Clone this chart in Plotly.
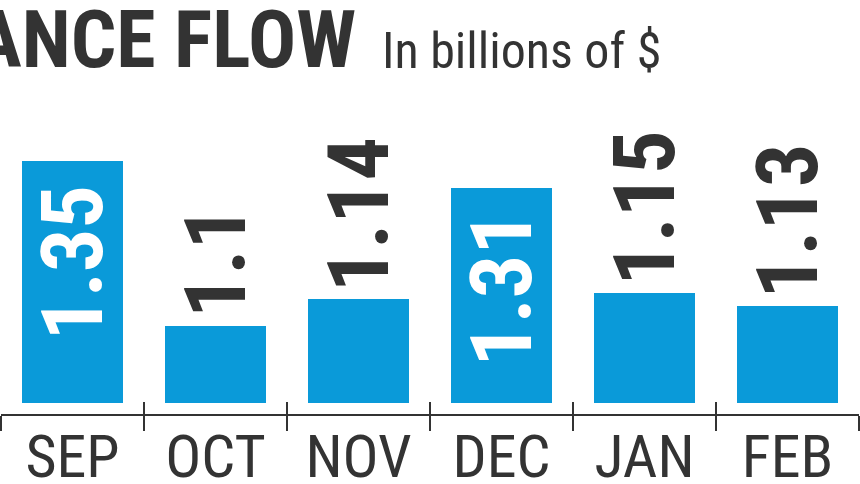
import plotly.graph_objects as go

# ---- data ----
months = ["SEP", "OCT", "NOV", "DEC", "JAN", "FEB"]
values = [1.35, 1.10, 1.14, 1.31, 1.15, 1.13]
value_labels = ["1.35", "1.1", "1.14", "1.31", "1.15", "1.13"]
label_inside = [True, False, False, True, False, False]
title_text = "ANCE FLOW"
subtitle_text = "In billions of $"

# ---- style ----
BLUE = "#0a9ad9"
INK = "#333333"
COND = "Roboto Condensed, Open Sans Condensed, DejaVu Sans Condensed, sans-serif"

W, H = 860, 484
PLOT_L, PLOT_R = 1, 859
AXIS_PX = 415          # pixel row of the axis line
BASE_PX = 403          # pixel row where bars start
Y_MIN = 0.982          # value at bar base
PX_PER_UNIT = 656.4
Y_MAX = Y_MIN + BASE_PX / PX_PER_UNIT


def pyf(px):
    return 1 - px / H


def pxf(px):
    return (px - PLOT_L) / (PLOT_R - PLOT_L)


fig = go.Figure()
fig.add_trace(go.Bar(
    x=months, y=values, width=0.713,
    marker=dict(color=BLUE, line=dict(width=0)),
    hoverinfo="skip", showlegend=False,
))
# helper trace so the overlay axis (upward tick marks) is drawn
fig.add_trace(go.Scatter(x=[None], y=[None], xaxis="x2", yaxis="y",
                         showlegend=False, hoverinfo="skip"))

annotations = []
for m, v, lab, ins in zip(months, values, value_labels, label_inside):
    annotations.append(dict(
        x=m, y=v, xref="x", yref="y", text=lab, showarrow=False,
        textangle=-90,
        font=dict(family=COND, size=86, color="white" if ins else INK, weight="bold"),
        yanchor="top" if ins else "bottom",
        yshift=-22 if ins else 5,
    ))

annotations.append(dict(
    xref="paper", yref="paper", x=pxf(358), y=pyf(69),
    xanchor="right", yanchor="bottom", yshift=-20,
    text=title_text, showarrow=False,
    font=dict(family=COND, size=80, color=INK, weight="bold"),
))
annotations.append(dict(
    xref="paper", yref="paper", x=pxf(380), y=pyf(69),
    xanchor="left", yanchor="bottom", yshift=-13,
    text=subtitle_text, showarrow=False,
    font=dict(family=COND, size=50, color=INK),
))

fig.update_layout(
    width=W, height=H,
    margin=dict(l=PLOT_L, r=W - PLOT_R, t=0, b=0, pad=0, autoexpand=False),
    paper_bgcolor="white", plot_bgcolor="white",
    bargap=0,
    annotations=annotations,
    xaxis=dict(
        type="category", range=[-0.5, 5.5], anchor="free", position=pyf(AXIS_PX),
        showline=True, linecolor=INK, linewidth=2,
        ticks="outside", tickson="boundaries", ticklen=15, tickwidth=2, tickcolor=INK,
        tickfont=dict(family=COND, size=60, color=INK),
        ticklabelstandoff=-11,
        showgrid=False, zeroline=False, fixedrange=True, automargin=False,
    ),
    xaxis2=dict(
        type="linear", range=[-0.5, 5.5], overlaying="x", anchor="free",
        position=pyf(AXIS_PX),
        tickmode="array", tickvals=[i - 0.5 for i in range(len(months) + 1)],
        ticks="inside", ticklen=13, tickwidth=2, tickcolor=INK,
        showticklabels=False, showline=False, showgrid=False, zeroline=False,
        automargin=False,
    ),
    yaxis=dict(domain=[pyf(BASE_PX), 1], range=[Y_MIN, Y_MAX], visible=False,
               fixedrange=True, automargin=False),
)

fig.write_html("out.html", config={"displayModeBar": False, "staticPlot": True},
               post_script="document.body.style.margin='0';")
